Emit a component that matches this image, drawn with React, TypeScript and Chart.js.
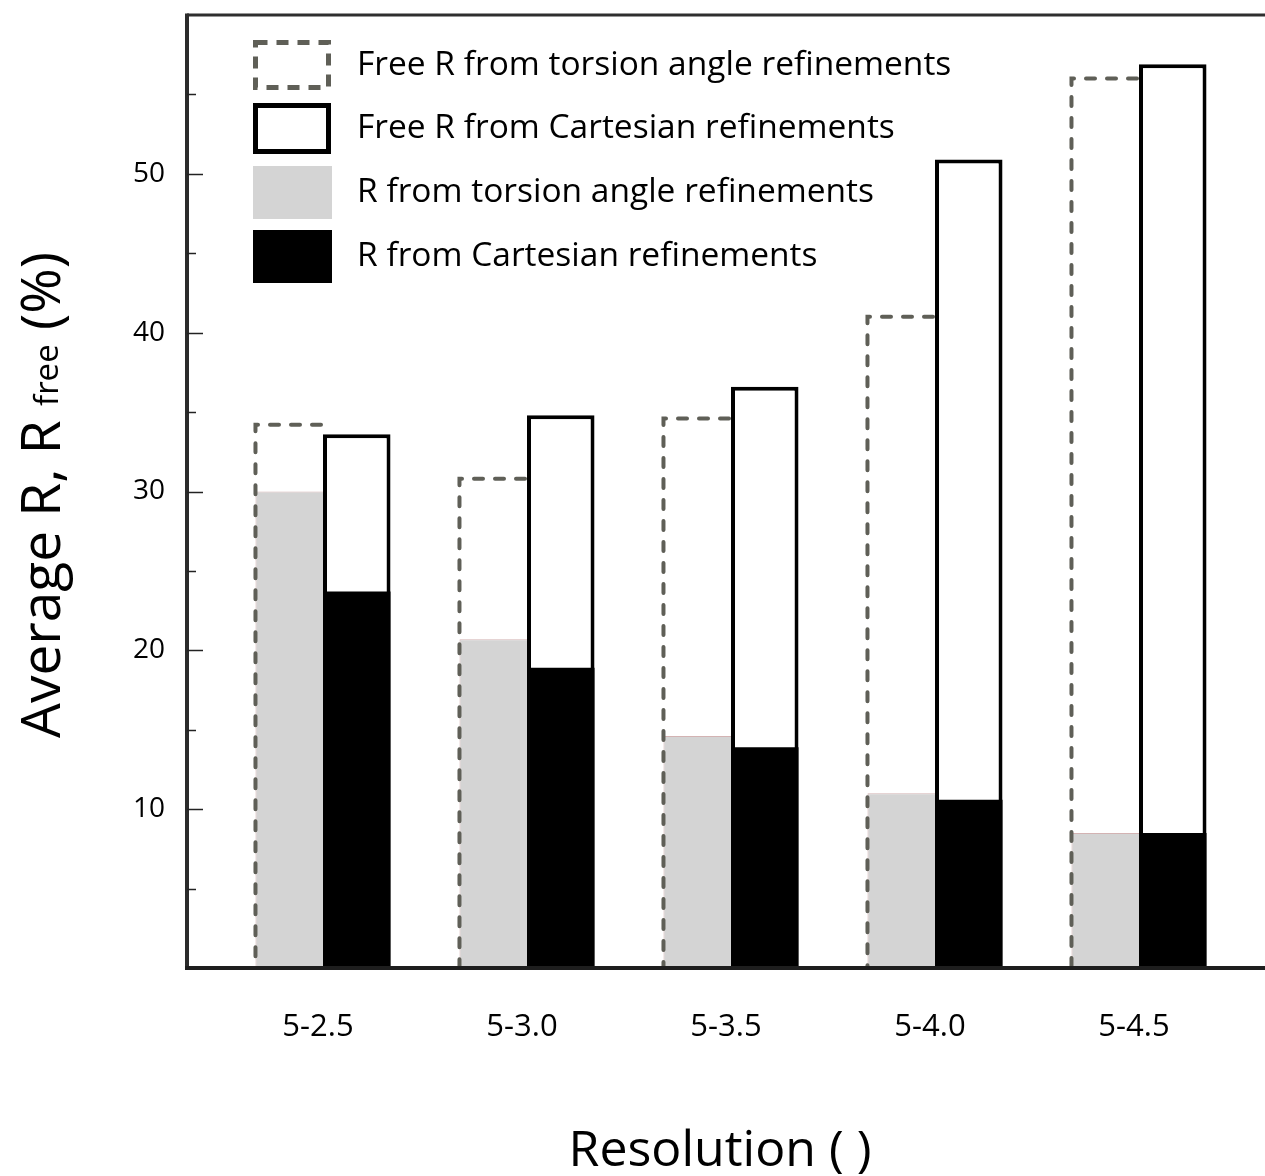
import React, { useEffect, useRef } from 'react';
import { Chart, registerables } from 'chart.js';

Chart.register(...registerables);

// ---- data ----
const categories = ['5-2.5', '5-3.0', '5-3.5', '5-4.0', '5-4.5'];
const freeRTorsion = [34.2, 30.8, 34.6, 41.0, 56.0];
const freeRCartesian = [33.6, 34.8, 36.6, 50.9, 56.9];
const rTorsion = [30.0, 20.7, 14.6, 11.0, 8.5];
const rCartesian = [23.7, 18.9, 13.9, 10.6, 8.5];
const yTickLabels = [10, 20, 30, 40, 50];
const legendLabels = [
  'Free R from torsion angle refinements',
  'Free R from Cartesian refinements',
  'R from torsion angle refinements',
  'R from Cartesian refinements',
];
const xTitle = 'Resolution ( )';
const yTitleMain = 'Average R, R ';
const yTitleSub = 'free';
const yTitleEnd = ' (%)';

// ---- styles ----
const FONT = '"Open Sans", sans-serif';
const DASH_COLOR = '#5f5f57';
const GRAY = '#d4d4d4';
const AXIS_X = 187;
const CANVAS_W = 1265;
const CANVAS_H = 1176;

export default function App() {
  const ref = useRef<HTMLCanvasElement>(null);

  useEffect(() => {
    const canvas = ref.current;
    if (!canvas) return;

    const dashedPlugin = {
      id: 'dashedOutline',
      afterDatasetsDraw(chart: any) {
        const meta = chart.getDatasetMeta(2);
        const ctx = chart.ctx;
        ctx.save();
        ctx.strokeStyle = DASH_COLOR;
        ctx.lineWidth = 4;
        ctx.lineCap = 'round';
        ctx.setLineDash([9, 12]);
        meta.data.forEach((bar: any) => {
          const { x, y, base, width } = bar.getProps(['x', 'y', 'base', 'width'], true);
          const l = x - width / 2;
          const r = x + width / 2;
          ctx.beginPath();
          ctx.moveTo(r - 2, y);
          ctx.lineTo(l, y);
          ctx.lineTo(l, base);
          ctx.stroke();
        });
        ctx.restore();
      },
    };

    const framePlugin = {
      id: 'frame',
      afterDatasetsDraw(chart: any) {
        const ctx = chart.ctx;
        const area = chart.chartArea;
        const yScale = chart.scales.y;
        ctx.save();
        ctx.setLineDash([]);
        ctx.lineCap = 'butt';
        // top border
        ctx.strokeStyle = '#2e2e2e';
        ctx.lineWidth = 3;
        ctx.beginPath();
        ctx.moveTo(AXIS_X, area.top);
        ctx.lineTo(CANVAS_W, area.top);
        ctx.stroke();
        // y axis
        ctx.strokeStyle = '#2b2b2b';
        ctx.lineWidth = 4;
        ctx.beginPath();
        ctx.moveTo(AXIS_X, area.top - 1.5);
        ctx.lineTo(AXIS_X, area.bottom + 2);
        ctx.stroke();
        // x axis
        ctx.strokeStyle = '#1e1e1e';
        ctx.lineWidth = 4;
        ctx.beginPath();
        ctx.moveTo(AXIS_X - 2, area.bottom);
        ctx.lineTo(CANVAS_W, area.bottom);
        ctx.stroke();
        // inward ticks
        ctx.strokeStyle = '#222';
        ctx.lineWidth = 1.5;
        for (let v = 5; v < 60; v += 5) {
          const py = Math.round(yScale.getPixelForValue(v)) + 0.5;
          const len = v % 10 === 0 ? 16 : 9;
          ctx.beginPath();
          ctx.moveTo(AXIS_X, py);
          ctx.lineTo(AXIS_X + len, py);
          ctx.stroke();
        }
        ctx.restore();
      },
    };

    const legendPlugin = {
      id: 'customLegend',
      afterDraw(chart: any) {
        const ctx = chart.ctx;
        const boxX = 253;
        const boxW = 78;
        const rows = [
          { top: 40, h: 50 },
          { top: 103, h: 51 },
          { top: 166, h: 53 },
          { top: 230, h: 53 },
        ];
        ctx.save();
        // dashed box
        ctx.strokeStyle = DASH_COLOR;
        ctx.lineWidth = 5;
        ctx.setLineDash([12, 9]);
        ctx.strokeRect(boxX + 2.5, rows[0].top + 2.5, boxW - 5, rows[0].h - 5);
        ctx.setLineDash([]);
        // solid box
        ctx.strokeStyle = '#000';
        ctx.lineWidth = 5;
        ctx.strokeRect(boxX + 2.5, rows[1].top + 2.5, boxW - 5, rows[1].h - 5);
        // gray box
        ctx.fillStyle = GRAY;
        ctx.fillRect(boxX, rows[2].top, boxW + 1, rows[2].h);
        // black box
        ctx.fillStyle = '#000';
        ctx.fillRect(boxX, rows[3].top, boxW + 1, rows[3].h);
        // texts
        ctx.fillStyle = '#000';
        ctx.font = `33.5px ${FONT}`;
        ctx.textAlign = 'left';
        ctx.textBaseline = 'middle';
        legendLabels.forEach((t, i) => {
          ctx.fillText(t, 357, rows[i].top + rows[i].h / 2);
        });
        ctx.restore();
      },
    };

    const titlesPlugin = {
      id: 'axisTitles',
      afterDraw(chart: any) {
        const ctx = chart.ctx;
        ctx.save();
        ctx.fillStyle = '#000';
        ctx.textBaseline = 'alphabetic';
        // x title
        ctx.font = `50px ${FONT}`;
        ctx.textAlign = 'center';
        ctx.fillText(xTitle, 720, 1166);
        // y title (rotated, with subscript)
        const mainFont = `55px ${FONT}`;
        const subFont = `33px ${FONT}`;
        ctx.font = mainFont;
        const w1 = ctx.measureText(yTitleMain).width;
        const w3 = ctx.measureText(yTitleEnd).width;
        ctx.font = subFont;
        const w2 = ctx.measureText(yTitleSub).width;
        const total = w1 + w2 + w3;
        ctx.translate(0, 495);
        ctx.rotate(-Math.PI / 2);
        ctx.textAlign = 'left';
        let u = -total / 2;
        ctx.font = mainFont;
        ctx.fillText(yTitleMain, u, 60);
        u += w1;
        ctx.font = subFont;
        ctx.fillText(yTitleSub, u, 58);
        u += w2;
        ctx.font = mainFont;
        ctx.fillText(yTitleEnd, u, 60);
        ctx.restore();
      },
    };

    const chart = new Chart(canvas, {
      type: 'bar',
      data: {
        labels: categories,
        datasets: [
          {
            label: legendLabels[2],
            data: rTorsion,
            stack: 'torsion',
            backgroundColor: GRAY,
            borderColor: '#d3b3b3',
            borderWidth: { top: 1, left: 1, right: 0, bottom: 0 },
          },
          {
            label: legendLabels[3],
            data: rCartesian,
            stack: 'cartesian',
            backgroundColor: '#000000',
            borderWidth: 0,
          },
          {
            label: legendLabels[0],
            data: freeRTorsion,
            stack: 'torsion',
            backgroundColor: 'rgba(0,0,0,0)',
            borderWidth: 0,
          },
          {
            label: legendLabels[1],
            data: freeRCartesian,
            stack: 'cartesian',
            backgroundColor: '#ffffff',
            borderColor: '#000000',
            borderWidth: 4,
          },
        ],
      },
      options: {
        animation: false,
        responsive: false,
        layout: { padding: { top: 15, right: 24, left: 0, bottom: 0 } },
        datasets: { bar: { categoryPercentage: 0.662, barPercentage: 1 } } as any,
        plugins: {
          legend: { display: false },
          tooltip: { enabled: false },
        },
        scales: {
          x: {
            stacked: true,
            grid: { display: false, drawTicks: false },
            border: { display: false },
            ticks: {
              padding: 41,
              color: '#000',
              labelOffset: -5,
              font: { family: FONT, size: 31 },
            },
            afterFit: (s: any) => {
              s.height = CANVAS_H - 968;
              s.paddingLeft = 0;
              s.paddingRight = 0;
            },
          },
          y: {
            stacked: false,
            min: 0,
            max: 60,
            grid: { display: false, drawTicks: false },
            border: { display: false },
            ticks: {
              stepSize: 10,
              padding: 56,
              color: '#000',
              font: { family: FONT, size: 28 },
              callback: (v: any) => (yTickLabels.includes(Number(v)) ? String(v) : ''),
            },
            afterFit: (s: any) => {
              s.width = 221;
              s.paddingTop = 0;
              s.paddingBottom = 0;
            },
          },
        } as any,
      },
      plugins: [dashedPlugin, framePlugin, legendPlugin, titlesPlugin],
    });

    return () => chart.destroy();
  }, []);

  return (
    <div style={{ position: 'absolute', left: 0, top: 0, width: CANVAS_W, height: CANVAS_H, background: '#fff' }}>
      <canvas ref={ref} width={CANVAS_W} height={CANVAS_H} style={{ display: 'block' }} />
    </div>
  );
}
